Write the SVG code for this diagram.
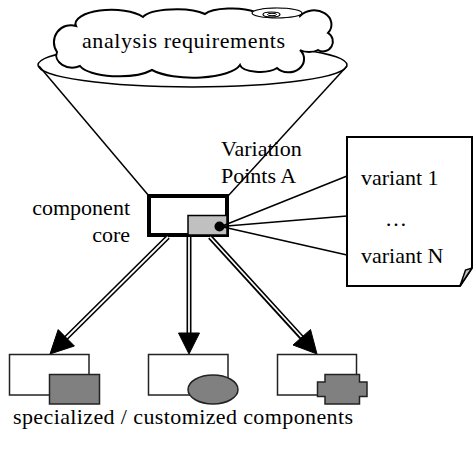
<svg xmlns="http://www.w3.org/2000/svg" width="473" height="450" viewBox="0 0 473 450">
<style>
  .t { font-family: 'Liberation Serif', 'DejaVu Serif', 'Times New Roman', serif; font-size: 22px; fill: #000; }
  .thin { fill: none; stroke: #000; stroke-width: 1.5; }
  .box { fill: #fff; stroke: #222; stroke-width: 1.5; }
  .dark { fill: #808080; stroke: #222; stroke-width: 1.5; }
  .shaft-o { stroke: #000; stroke-width: 5; fill: none; }
  .shaft-i { stroke: #fff; stroke-width: 1.8; fill: none; }
  .head { fill: #000; stroke: #000; stroke-width: 1; }
</style>
<rect width="473" height="450" fill="#fff"/>

<g id="funnel">
  <ellipse cx="192.5" cy="65" rx="154.5" ry="22" fill="#fff" stroke="#000" stroke-width="1.5"/>
  <line class="thin" x1="39" y1="66" x2="149" y2="196"/>
  <line class="thin" x1="347" y1="66" x2="228" y2="196"/>
</g>

<g id="cloud">
  <path d="M57,52 A17,17 0 0 1 76,26 A36,14 0 0 1 143,17 A34,10 0 0 1 205,14 A28,8 0 0 1 255,12 A25,8 0 0 1 300,16 A16,13 0 0 1 328,33 A9,9 0 1 1 318,50 A12,6 0 0 1 300,50 A14,12 0 0 1 277,68 A20,8 0 0 1 240,65 A48,16 0 0 1 152,70 A40,14 0 0 1 80,66 A16,12 0 0 1 57,52 Z" fill="#fff" stroke="#000" stroke-width="2"/>
  <ellipse cx="277" cy="13" rx="25" ry="5" fill="#fff" stroke="#000" stroke-width="1.2"/>
  <ellipse cx="271.5" cy="14.5" rx="8.5" ry="2.5" fill="none" stroke="#000" stroke-width="1.2"/>
  <ellipse cx="272" cy="14.5" rx="4.5" ry="1.2" fill="none" stroke="#000" stroke-width="1"/>
  <text class="t" x="82" y="48" textLength="203" lengthAdjust="spacing">analysis requirements</text>
</g>

<g id="core">
  <rect x="149" y="196" width="78" height="39" fill="#fff" stroke="#000" stroke-width="4"/>
  <rect x="188" y="215.5" width="39" height="19.5" fill="#c0c0c0" stroke="#000" stroke-width="1.5"/>
  <circle cx="219.5" cy="226.5" r="5" fill="#000"/>
  <text class="t" x="130" y="215" text-anchor="end">component</text>
  <text class="t" x="130" y="242" text-anchor="end">core</text>
</g>

<g id="variation-label">
  <text class="t" x="221" y="156">Variation</text>
  <text class="t" x="221" y="183">Points A</text>
</g>

<g id="variants">
  <path d="M347,137 L472,137 L472,268 L460,286 L347,286 Z" fill="#fff" stroke="#000" stroke-width="2"/>
  <polygon points="460,286 465.5,270 472,268" fill="#c0c0c0" stroke="#000" stroke-width="1.5"/>
  <text class="t" x="361" y="185">variant 1</text>
  <text class="t" x="385" y="226">…</text>
  <text class="t" x="361" y="263">variant N</text>
</g>

<g id="connectors">
  <line class="thin" x1="221" y1="226.5" x2="347" y2="176"/>
  <line class="thin" x1="221" y1="226.5" x2="347" y2="216"/>
  <line class="thin" x1="221" y1="226.5" x2="347" y2="255"/>

  <line class="shaft-o" x1="168" y1="237" x2="64" y2="340"/>
  <line class="shaft-i" x1="168" y1="237" x2="66" y2="338"/>
  <polygon class="head" points="50,354 58.2,329.6 74.4,346"/>

  <line class="shaft-o" x1="189" y1="237" x2="189" y2="336"/>
  <line class="shaft-i" x1="189" y1="237" x2="189" y2="334"/>
  <polygon class="head" points="189,354 178.5,333 199.5,333"/>

  <line class="shaft-o" x1="210" y1="237" x2="303" y2="339"/>
  <line class="shaft-i" x1="210" y1="237" x2="301.5" y2="337"/>
  <polygon class="head" points="317,354 310.5,329.5 293,345"/>
</g>

<g id="result-1">
  <rect class="box" x="9.5" y="354.5" width="79.5" height="40.5"/>
  <rect class="dark" x="49.5" y="374.5" width="50" height="29.5"/>
</g>
<g id="result-2">
  <rect class="box" x="148.5" y="354.5" width="79.5" height="40.5"/>
  <ellipse class="dark" cx="213" cy="389.5" rx="25" ry="14.5"/>
</g>
<g id="result-3">
  <rect class="box" x="277.5" y="354.5" width="79" height="40.5"/>
  <path class="dark" d="M325,374.5 L359.5,374.5 L359.5,382 L367,382 L367,396.5 L359.5,396.5 L359.5,404 L325,404 L325,396.5 L317.5,396.5 L317.5,382 L325,382 Z"/>
</g>

<g id="caption">
  <text class="t" x="13" y="424" textLength="340" lengthAdjust="spacing">specialized / customized components</text>
</g>
</svg>
